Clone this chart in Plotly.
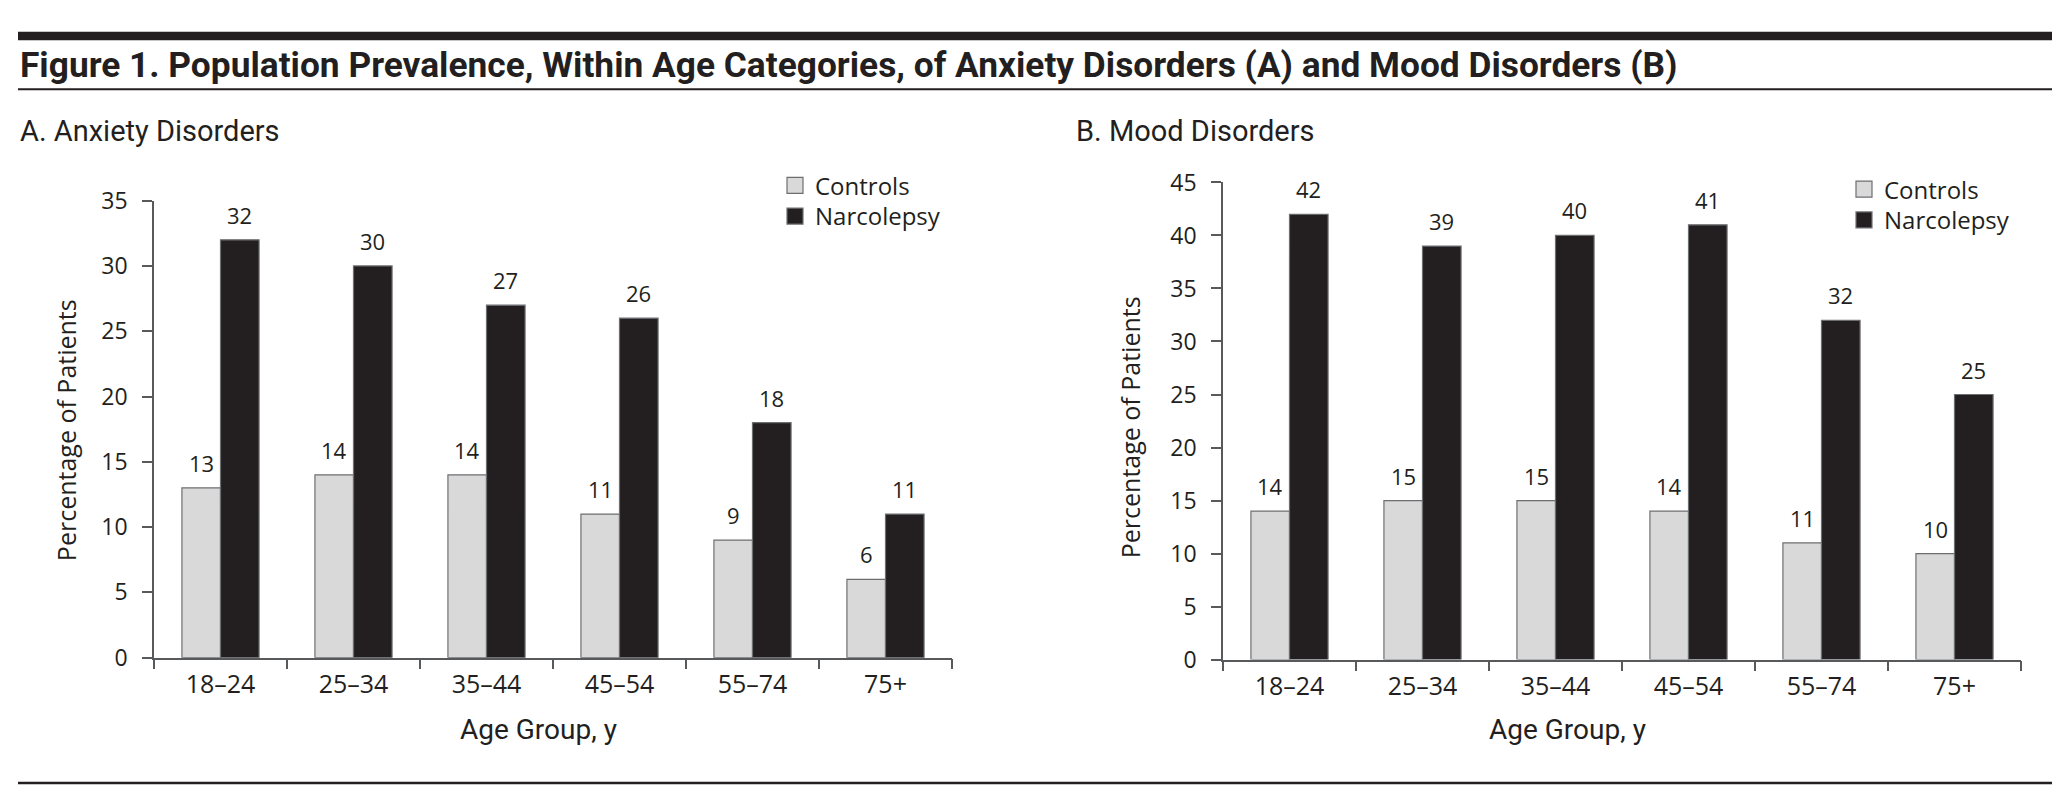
import plotly.graph_objects as go

# ---- data ----
age_groups = ["18–24", "25–34", "35–44", "45–54", "55–74", "75+"]
anx_controls = [13, 14, 14, 11, 9, 6]
anx_narcolepsy = [32, 30, 27, 26, 18, 11]
mood_controls = [14, 15, 15, 14, 11, 10]
mood_narcolepsy = [42, 39, 40, 41, 32, 25]
anx_yticks = [0, 5, 10, 15, 20, 25, 30, 35]
mood_yticks = [0, 5, 10, 15, 20, 25, 30, 35, 40, 45]
series_names = ["Controls", "Narcolepsy"]

# ---- style ----
W, H = 2060, 801
INK = "#231f20"
LIGHT = "#d9d9d9"
EDGE = "#6d6e71"
AX = "#58595b"
REG = "Open Sans"
COND = "Roboto"
BARGAP = 0.42


def fx(px):
    return px / W


def fy(py):
    return 1 - py / H


panels = [
    dict(xa="x", ya="y", xdom=(146, 944), ydom=(659, 183), ctrl=anx_controls,
         narc=anx_narcolepsy, ticks=anx_yticks, legends=("legend", "legend2"),
         leg_x=767, leg_y=(144, 176)),
    dict(xa="x2", ya="y2", xdom=(1215, 2013), ydom=(661, 164), ctrl=mood_controls,
         narc=mood_narcolepsy, ticks=mood_yticks, legends=("legend3", "legend4"),
         leg_x=1836, leg_y=(148, 180)),
]

fig = go.Figure()
annotations = []

for p in panels:
    for k, (name, vals, col) in enumerate([(series_names[0], p["ctrl"], LIGHT),
                                           (series_names[1], p["narc"], INK)]):
        fig.add_trace(go.Bar(
            x=age_groups, y=vals, name=name, xaxis=p["xa"], yaxis=p["ya"],
            marker=dict(color=col, line=dict(color=EDGE, width=1.2)),
            showlegend=False, hoverinfo="x+y",
        ))
        fig.add_trace(go.Scatter(
            x=[None], y=[None], mode="markers", name=name, xaxis=p["xa"], yaxis=p["ya"],
            marker=dict(symbol="square", size=17, color=col, line=dict(color=EDGE, width=1.2)),
            legend=p["legends"][k],
        ))
    # value labels
    catw = (p["xdom"][1] - p["xdom"][0]) / len(age_groups)
    barw = catw * (1 - BARGAP) / 2
    for vals, sh in [(p["ctrl"], -barw / 2), (p["narc"], barw / 2)]:
        for cat, v in zip(age_groups, vals):
            annotations.append(dict(
                x=cat, y=v, xref=p["xa"], yref=p["ya"], text=str(v), showarrow=False,
                xanchor="center", yanchor="bottom", xshift=sh, yshift=8,
                font=dict(family=REG, size=22, color=INK),
            ))

axis_common = dict(showline=True, linecolor=AX, linewidth=1.5, ticks="outside",
                   ticklen=10, tickcolor=AX, tickwidth=1.5, showgrid=False, zeroline=False,
                   color=INK)

layout = dict(
    width=W, height=H, margin=dict(l=0, r=0, t=0, b=0),
    paper_bgcolor="white", plot_bgcolor="white",
    barmode="group", bargap=BARGAP, bargroupgap=0,
    font=dict(family=REG, color=INK),
)
legend_common = dict(xanchor="left", yanchor="top", font=dict(family=REG, size=24, color=INK),
                     bgcolor="rgba(0,0,0,0)")
for i, p in enumerate(panels):
    sfx = "" if i == 0 else "2"
    layout["xaxis" + sfx] = dict(
        axis_common, domain=[fx(p["xdom"][0]), fx(p["xdom"][1])], anchor=p["ya"],
        type="category", tickson="boundaries",
        tickfont=dict(family=REG, size=25, color=INK), ticklabelstandoff=4,
    )
    layout["yaxis" + sfx] = dict(
        axis_common, domain=[fy(p["ydom"][0]), fy(p["ydom"][1])], anchor=p["xa"],
        range=[0, max(p["ticks"])], tickvals=p["ticks"], ticktext=[str(t) for t in p["ticks"]],
        tickfont=dict(family=REG, size=23, color=INK), ticklabelstandoff=10,
    )
    for lg, ly in zip(p["legends"], p["leg_y"]):
        layout[lg] = dict(legend_common, x=fx(p["leg_x"]), y=fy(ly))

# titles
annotations += [
    dict(x=fx(10), y=fy(42), xref="paper", yref="paper", xanchor="left", yanchor="middle",
         showarrow=False,
         text="<b>Figure 1. Population Prevalence, Within Age Categories, of Anxiety Disorders (A) and Mood Disorders (B)</b>",
         font=dict(family=COND, size=35.3, color=INK)),
    dict(x=fx(10), y=fy(110), xref="paper", yref="paper", xanchor="left", yanchor="middle",
         showarrow=False, text="A. Anxiety Disorders", font=dict(family=COND, size=29, color=INK)),
    dict(x=fx(1066), y=fy(110), xref="paper", yref="paper", xanchor="left", yanchor="middle",
         showarrow=False, text="B. Mood Disorders", font=dict(family=COND, size=29, color=INK)),
    dict(x=fx(530), y=fy(734), xref="paper", yref="paper", xanchor="center", yanchor="middle",
         showarrow=False, text="Age Group, y", font=dict(family=COND, size=28, color=INK)),
    dict(x=fx(1559), y=fy(734), xref="paper", yref="paper", xanchor="center", yanchor="middle",
         showarrow=False, text="Age Group, y", font=dict(family=COND, size=28, color=INK)),
    dict(x=fx(58), y=fy(422), xref="paper", yref="paper", xanchor="center", yanchor="middle",
         showarrow=False, textangle=-90, text="Percentage of Patients",
         font=dict(family=REG, size=25, color=INK)),
    dict(x=fx(1122), y=fy(419), xref="paper", yref="paper", xanchor="center", yanchor="middle",
         showarrow=False, textangle=-90, text="Percentage of Patients",
         font=dict(family=REG, size=25, color=INK)),
]
layout["annotations"] = annotations

layout["shapes"] = [
    dict(type="rect", xref="paper", yref="paper", x0=fx(10), x1=1, y0=fy(16), y1=fy(7),
         fillcolor=INK, line=dict(width=0)),
    dict(type="line", xref="paper", yref="paper", x0=fx(10), x1=1, y0=fy(67), y1=fy(67),
         line=dict(color=INK, width=2)),
    dict(type="line", xref="paper", yref="paper", x0=fx(10), x1=1, y0=fy(789.5), y1=fy(789.5),
         line=dict(color=INK, width=2.5)),
]

fig.update_layout(layout)
fig.write_html("out.html", config={"displayModeBar": False})
